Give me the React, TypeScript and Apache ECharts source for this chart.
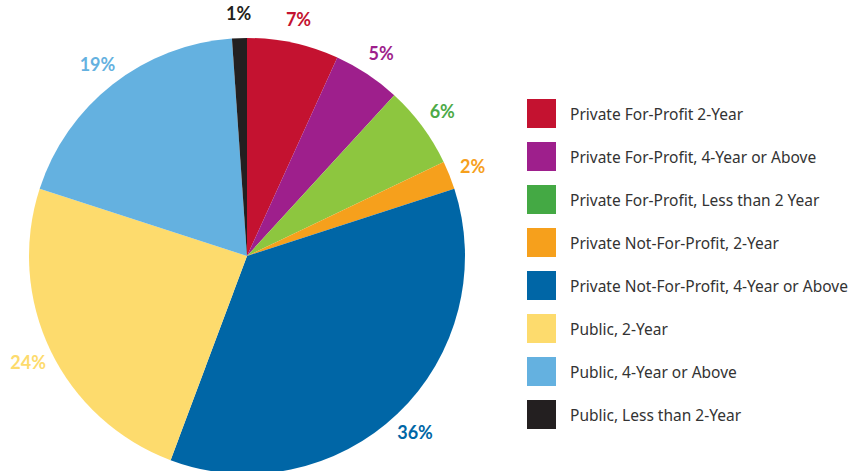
import React, { useEffect, useRef } from "react";
import * as echarts from "echarts";

const categories = [
  "Private For-Profit 2-Year",
  "Private For-Profit, 4-Year or Above",
  "Private For-Profit, Less than 2 Year",
  "Private Not-For-Profit, 2-Year",
  "Private Not-For-Profit, 4-Year or Above",
  "Public, 2-Year",
  "Public, 4-Year or Above",
  "Public, Less than 2-Year",
];
const shares = [6.8, 5.0, 6.1, 2.1, 35.7, 24.3, 18.9, 1.1];
const labelTexts = ["7%", "5%", "6%", "2%", "36%", "24%", "19%", "1%"];
const sliceColors = ["#C41230", "#9E1F8C", "#8DC63F", "#F6A01C", "#0066A6", "#FDDB6D", "#64B1E0", "#231F20"];
const legendColors = ["#C41230", "#9E1F8C", "#44A944", "#F6A01C", "#0066A6", "#FDDB6D", "#64B1E0", "#231F20"];
const labelColors = ["#C41230", "#9E1F8C", "#4DAA47", "#F6A01C", "#0066A6", "#FDDB6D", "#64B1E0", "#231F20"];

export default function App() {
  const ref = useRef<HTMLDivElement>(null);
  useEffect(() => {
    if (!ref.current) return;
    const chart = echarts.init(ref.current, undefined, { renderer: "svg" });
    const font = "Lato, 'Noto Sans', sans-serif";
    chart.setOption({
      animation: false,
      backgroundColor: "#ffffff",
      legend: {
        orient: "vertical",
        left: 527,
        top: 99,
        padding: 0,
        itemWidth: 29,
        itemHeight: 29,
        itemGap: 14,
        icon: "rect",
        selectedMode: false,
        textStyle: { fontFamily: "'Noto Sans', sans-serif", fontSize: 15.5, color: "#333333", padding: [0, 0, 0, 9] },
        data: categories.map((c, i) => ({ name: c, itemStyle: { color: legendColors[i] } })),
      },
      series: [
        {
          type: "pie",
          center: [247, 256],
          radius: [0, 218],
          startAngle: 90,
          clockwise: true,
          label: { show: false },
          labelLine: { show: false },
          silent: true,
          data: categories.map((c, i) => ({ name: c, value: shares[i], itemStyle: { color: sliceColors[i] } })),
        },
        {
          type: "pie",
          center: [247, 256],
          radius: [229, 251],
          startAngle: 90,
          clockwise: true,
          silent: true,
          itemStyle: { color: "transparent" },
          labelLine: { show: false },
          data: categories.map((c, i) => ({
            name: c,
            value: shares[i],
            itemStyle: { color: "rgba(0,0,0,0)" },
            label: {
              show: true,
              position: "inside",
              formatter: labelTexts[i],
              color: labelColors[i],
              fontFamily: font,
              fontSize: 18,
              fontWeight: "bold",
            },
          })),
        },
      ],
    });
    return () => chart.dispose();
  }, []);
  return <div ref={ref} style={{ width: 854, height: 471, position: "absolute", left: 0, top: 0 }} />;
}
